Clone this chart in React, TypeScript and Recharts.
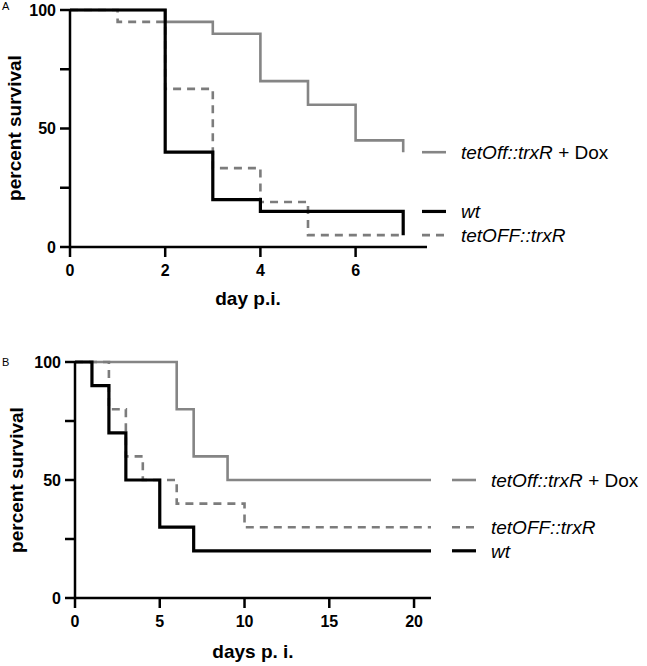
import React from 'react';
import { LineChart, Line, XAxis, YAxis, Legend, Label } from 'recharts';

// panel A: day p.i.
const daysADox = [0, 2, 3, 4, 5, 6, 7];
const survADox = [100, 95, 90, 70, 60, 45, 40];
const daysAWt = [0, 2, 3, 4, 7];
const survAWt = [100, 40, 20, 15, 5];
const daysATet = [0, 1, 2, 3, 4, 5, 7];
const survATet = [100, 95, 66.7, 33.3, 19, 5, 5];
const ticksA = [0, 2, 4, 6];

// panel B: days p. i.
const daysBDox = [0, 6, 7, 9, 21];
const survBDox = [100, 80, 60, 50, 50];
const daysBTet = [0, 2, 3, 4, 6, 10, 21];
const survBTet = [100, 80, 60, 50, 40, 30, 30];
const daysBWt = [0, 1, 2, 3, 5, 7, 21];
const survBWt = [100, 90, 70, 50, 30, 20, 20];
const ticksB = [0, 5, 10, 15, 20];

const yTicks = [0, 25, 50, 75, 100];

const FONT = '"Liberation Sans", Arial, Helvetica, sans-serif';
const GRAY = '#858585';
const DASH_GRAY = '#7c7c7c';

const toPoints = (days: number[], surv: number[]) => days.map((d, i) => ({ x: d, y: surv[i] }));

// legend label sits at the level where the curve runs out (GraphPad style)
type Item = { name: string; dox?: boolean; color: string; dash?: string; width: number; level: number };

const tickStyle = { fill: '#000', fontSize: 16, fontWeight: 'bold' as const, fontFamily: FONT };

const renderLegend = (
  items: Item[],
  plotTop: number,
  plotH: number,
  lineX: number,
  textX: number,
  letter: string,
  letterY: number
) => () => (
  <svg
    width={647}
    height={330}
    style={{ position: 'absolute', left: 0, top: 0, overflow: 'visible', pointerEvents: 'none' }}
  >
    <text x={2} y={letterY} fontSize={11} fontFamily={FONT} fill="#000">{letter}</text>
    {items.map((it) => {
      const y = plotTop + (1 - it.level / 100) * plotH;
      return (
        <g key={it.name + (it.dox ? 'd' : '')}>
          <line x1={lineX} x2={lineX + 24} y1={y} y2={y} stroke={it.color} strokeWidth={it.width} strokeDasharray={it.dash} />
          <text x={textX} y={y + 7} fontSize={19} fontFamily={FONT} fill="#000">
            <tspan fontStyle="italic">{it.name}</tspan>
            {it.dox ? <tspan> + Dox</tspan> : null}
          </text>
        </g>
      );
    })}
  </svg>
);

const yTitle = (cx: number, cy: number) => () => (
  <text
    x={cx}
    y={cy}
    transform={`rotate(-90, ${cx}, ${cy})`}
    textAnchor="middle"
    dominantBaseline="central"
    fontSize={19}
    fontWeight="bold"
    fontFamily={FONT}
    fill="#000"
  >
    percent survival
  </text>
);

const xTitle = (text: string, cx: number, by: number) => () => (
  <text x={cx} y={by} textAnchor="middle" fontSize={19} fontWeight="bold" fontFamily={FONT} fill="#000">
    {text}
  </text>
);

const legendWrap = { position: 'absolute' as const, left: 0, top: 0, width: 0, height: 0, overflow: 'visible' as const };

export default function App() {
  const itemsA: Item[] = [
    { name: 'tetOff::trxR', dox: true, color: GRAY, width: 2.6, level: survADox[survADox.length - 1] },
    { name: 'wt', color: '#000', width: 3.2, level: survAWt[survAWt.length - 2] },
    { name: 'tetOFF::trxR', color: DASH_GRAY, width: 2.6, dash: '8 6', level: survATet[survATet.length - 1] },
  ];
  const itemsB: Item[] = [
    { name: 'tetOff::trxR', dox: true, color: GRAY, width: 2.6, level: survBDox[survBDox.length - 1] },
    { name: 'tetOFF::trxR', color: DASH_GRAY, width: 2.6, dash: '8 6', level: survBTet[survBTet.length - 1] },
    { name: 'wt', color: '#000', width: 3.2, level: survBWt[survBWt.length - 1] },
  ];

  return (
    <div style={{ position: 'absolute', left: 0, top: 0, width: 647, height: 666, background: '#fff' }}>
      <div style={{ position: 'absolute', left: 0, top: 0 }}>
        <LineChart width={647} height={320} margin={{ top: 10, right: 220, bottom: 0, left: 0 }}>
          <XAxis
            type="number"
            dataKey="x"
            domain={[0, 7.5]}
            ticks={ticksA}
            height={73}
            allowDataOverflow
            axisLine={{ stroke: '#000', strokeWidth: 2.5 }}
            tickLine={{ stroke: '#000', strokeWidth: 2.5 }}
            tickSize={10}
            tickMargin={8}
            tick={tickStyle}
          >
            <Label content={xTitle('day p.i.', 248, 305)} />
          </XAxis>
          <YAxis
            type="number"
            dataKey="y"
            domain={[0, 100]}
            ticks={yTicks}
            width={70}
            axisLine={{ stroke: '#000', strokeWidth: 2.5 }}
            tickLine={{ stroke: '#000', strokeWidth: 2.5 }}
            tickSize={10}
            tickMargin={4}
            tick={tickStyle}
            tickFormatter={(v: number) => (v % 50 === 0 ? String(v) : '')}
          >
            <Label content={yTitle(14, 128)} />
          </YAxis>
          <Legend content={renderLegend(itemsA, 10, 237, 422, 461, 'A', 10)} wrapperStyle={legendWrap} />
          <Line data={toPoints(daysADox, survADox)} dataKey="y" type="stepAfter" stroke={GRAY} strokeWidth={2.6} dot={false} activeDot={false} isAnimationActive={false} />
          <Line data={toPoints(daysATet, survATet)} dataKey="y" type="stepAfter" stroke={DASH_GRAY} strokeWidth={2.6} strokeDasharray="8 6" dot={false} activeDot={false} isAnimationActive={false} />
          <Line data={toPoints(daysAWt, survAWt)} dataKey="y" type="stepAfter" stroke="#000" strokeWidth={3.2} dot={false} activeDot={false} isAnimationActive={false} />
        </LineChart>
      </div>
      <div style={{ position: 'absolute', left: 0, top: 340 }}>
        <LineChart width={647} height={326} margin={{ top: 22, right: 216, bottom: 0, left: 0 }}>
          <XAxis
            type="number"
            dataKey="x"
            domain={[0, 21]}
            ticks={ticksB}
            height={68}
            allowDataOverflow
            axisLine={{ stroke: '#000', strokeWidth: 2.5 }}
            tickLine={{ stroke: '#000', strokeWidth: 2.5 }}
            tickSize={10}
            tickMargin={8}
            tick={tickStyle}
          >
            <Label content={xTitle('days p. i.', 253, 318)} />
          </XAxis>
          <YAxis
            type="number"
            dataKey="y"
            domain={[0, 100]}
            ticks={yTicks}
            width={75}
            axisLine={{ stroke: '#000', strokeWidth: 2.5 }}
            tickLine={{ stroke: '#000', strokeWidth: 2.5 }}
            tickSize={10}
            tickMargin={4}
            tick={tickStyle}
            tickFormatter={(v: number) => (v % 50 === 0 ? String(v) : '')}
          >
            <Label content={yTitle(16, 140)} />
          </YAxis>
          <Legend content={renderLegend(itemsB, 22, 236, 452, 491, 'B', 26)} wrapperStyle={legendWrap} />
          <Line data={toPoints(daysBDox, survBDox)} dataKey="y" type="stepAfter" stroke={GRAY} strokeWidth={2.6} dot={false} activeDot={false} isAnimationActive={false} />
          <Line data={toPoints(daysBTet, survBTet)} dataKey="y" type="stepAfter" stroke={DASH_GRAY} strokeWidth={2.6} strokeDasharray="8 6" dot={false} activeDot={false} isAnimationActive={false} />
          <Line data={toPoints(daysBWt, survBWt)} dataKey="y" type="stepAfter" stroke="#000" strokeWidth={3.2} dot={false} activeDot={false} isAnimationActive={false} />
        </LineChart>
      </div>
    </div>
  );
}
